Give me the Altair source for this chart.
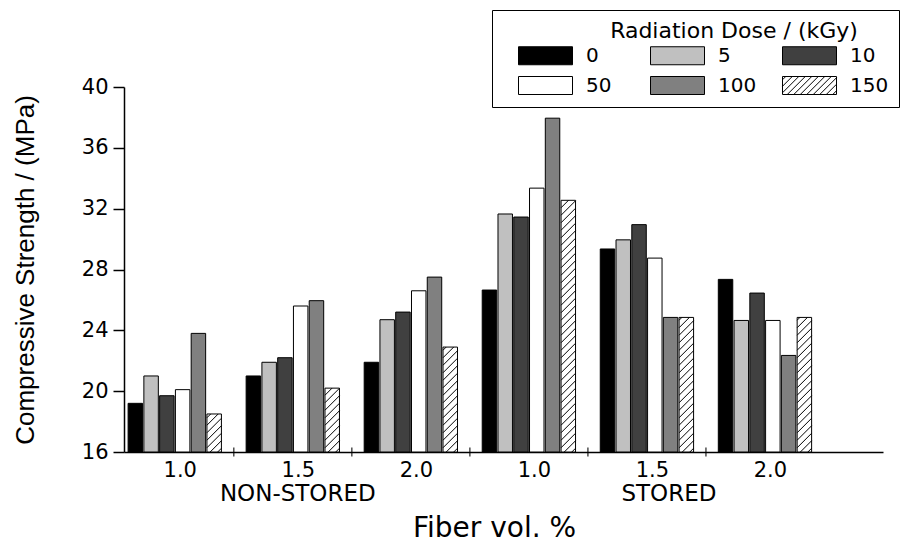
import json
import altair as alt
import pandas as pd

# ---------------- data ----------------
doses = ["0", "5", "10", "50", "100", "150"]
dose_colors = ["#000000", "#c0c0c0", "#404040", "#ffffff", "#808080", "#ffffff"]
fiber_labels = ["1.0", "1.5", "2.0", "1.0", "1.5", "2.0"]
storage_names = ["NON-STORED", "STORED"]
legend_title = "Radiation Dose / (kGy)"

ns_10 = [19.2, 21.0, 19.7, 20.1, 23.8, 18.5]
ns_15 = [21.0, 21.9, 22.2, 25.6, 25.95, 20.2]
ns_20 = [21.9, 24.7, 25.2, 26.6, 27.5, 22.9]
st_10 = [26.65, 31.65, 31.45, 33.35, 37.95, 32.55]
st_15 = [29.35, 29.95, 30.95, 28.75, 24.85, 24.85]
st_20 = [27.35, 24.65, 26.45, 24.65, 22.35, 24.85]
groups = [ns_10, ns_15, ns_20, st_10, st_15, st_20]

y_ticks = list(range(16, 41, 2))

# ---------------- layout ----------------
W, H = 759, 365
X_MIN, X_MAX = 0.57, 7.0
Y_MIN, Y_MAX = 16, 40
PITCH = 0.1336
HALF = 0.0613
SX = W / (X_MAX - X_MIN)
SY = H / (Y_MAX - Y_MIN)
HATCH = 7.5

rows = []
hatch = []
for gi, vals in enumerate(groups):
    g = gi + 1
    for i, (d, v) in enumerate(zip(doses, vals)):
        c = g + (i - 2.5) * PITCH
        x0, x1 = c - HALF, c + HALF
        rows.append({"dose": d, "value": v, "x0": x0, "x1": x1, "base": Y_MIN})
        if d == "150":
            w = (x1 - x0) * SX
            h = (v - Y_MIN) * SY
            k = -w + HATCH / 2
            while k < h:
                a = max(0.0, -k)
                b = min(w, h - k)
                if b > a:
                    hatch.append({
                        "hx0": x0 + a / SX, "hx1": x0 + b / SX,
                        "hy0": Y_MIN + (a + k) / SY, "hy1": Y_MIN + (b + k) / SY,
                    })
                k += HATCH
bar_df = pd.DataFrame(rows)
hatch_df = pd.DataFrame(hatch)
sep_df = pd.DataFrame({"bx": [g + 0.5 for g in range(1, len(groups))], "by": Y_MIN})

# legend symbols (unit box: x -1.5..1.5, y -0.5..0.5; the leading moveTo only widens the bounds)
rect_path = "M-2.4,0M-1.5,-0.5H1.5V0.5H-1.5Z"
step = 6.5 / 18
segs = []
cc = -2.0 + step / 2
while cc < 2.0:
    a = max(-1.5, cc - 0.5)
    b = min(1.5, cc + 0.5)
    if b > a:
        segs.append(f"M{a:.4f},{cc - a:.4f}L{b:.4f},{cc - b:.4f}")
    cc += step
hatch_path = rect_path + "".join(segs)

FONT = "DejaVu Sans"
TITLE = "Fiber vol. %"
YTITLE = "Compressive Strength / (MPa)"

xscale = alt.Scale(domain=[X_MIN, X_MAX], nice=False, zero=False)
yscale = alt.Scale(domain=[Y_MIN, Y_MAX], nice=False, zero=False)

xaxis = alt.Axis(
    values=list(range(1, len(groups) + 1)),
    labelExpr=f"{json.dumps(fiber_labels)}[datum.value - 1]",
    ticks=False, tickSize=0, grid=False,
    domainColor="black", domainWidth=1.5,
    labelFont=FONT, labelFontSize=21, labelColor="black",
    labelBaseline="alphabetic", labelPadding=24, labelOffset=5,
    title=TITLE, titleFont=FONT, titleFontSize=28, titleFontWeight="normal",
    titleColor="black", titleX=370, titleY=84, titleAlign="center",
    titleBaseline="alphabetic", titleAnchor="start",
)
yaxis = alt.Axis(
    values=y_ticks,
    labelExpr="datum.value % 4 === 0 ? datum.label : ''",
    tickSize={"condition": {"test": "datum.value % 4 === 0", "value": 11}, "value": 6},
    tickColor="black", tickWidth=1.5, grid=False,
    domainColor="black", domainWidth=1.5,
    labelFont=FONT, labelFontSize=21, labelColor="black", labelPadding=5,
    title=YTITLE, titleFont="Liberation Sans", titleFontSize=26,
    titleFontWeight="normal", titleColor="black", titleAngle=270,
    titleX=-91, titleY=H / 2, titleAlign="center", titleBaseline="alphabetic",
    titleAnchor="start",
)

legend = alt.Legend(
    title=" ", orient="none", legendX=368, legendY=-77, direction="horizontal",
    columns=3, gridAlign="all", columnPadding=7, rowPadding=-4,
    symbolType={"expr": f"datum.value === '150' ? '{hatch_path}' : '{rect_path}'"},
    symbolSize=1296, symbolStrokeColor="black", symbolOffset=25,
    symbolStrokeWidth=1, symbolOpacity=1,
    labelFont=FONT, labelFontSize=20, labelColor="black", labelOffset=22,
    titleFont=FONT, titleFontSize=17, titleFontWeight="normal", titleColor="black",
    titlePadding=0,
    strokeColor="black", padding=10,
)

bars = alt.Chart(bar_df).mark_bar(stroke="black", strokeWidth=1, opacity=1).encode(
    x=alt.X("x0:Q", scale=xscale, axis=xaxis, title=TITLE),
    x2="x1",
    y=alt.Y("value:Q", scale=yscale, axis=yaxis, title=YTITLE),
    y2="base",
    color=alt.Color("dose:N", scale=alt.Scale(domain=doses, range=dose_colors), legend=legend),
)

hatch_layer = alt.Chart(hatch_df).mark_rule(color="black", strokeWidth=1).encode(
    x=alt.X("hx0:Q", title=TITLE), x2="hx1",
    y=alt.Y("hy0:Q", title=YTITLE), y2="hy1",
)

sep_layer = alt.Chart(sep_df).mark_tick(color="black", thickness=1.5, size=9, orient="vertical").encode(
    x=alt.X("bx:Q", title=TITLE),
    y=alt.Y("by:Q", title=YTITLE),
)

name1 = alt.Chart(pd.DataFrame({"name": [storage_names[0]], "gx": [2]})).mark_text(
    font=FONT, fontSize=23, color="black", baseline="alphabetic", align="center", dx=5
).encode(x=alt.X("gx:Q", title=TITLE), y=alt.value(H + 49), text="name:N")
name2 = alt.Chart(pd.DataFrame({"name": [storage_names[1]], "gx": [5]})).mark_text(
    font=FONT, fontSize=23, color="black", baseline="alphabetic", align="center", dx=22
).encode(x=alt.X("gx:Q", title=TITLE), y=alt.value(H + 49), text="name:N")

leg_title = alt.Chart(pd.DataFrame({"t": [legend_title]})).mark_text(
    font=FONT, fontSize=22, color="black", baseline="alphabetic", align="center"
).encode(x=alt.value(610), y=alt.value(-49), text="t:N")

chart = alt.layer(bars, hatch_layer, sep_layer, name1, name2, leg_title).properties(
    width=W, height=H,
    autosize=alt.AutoSizeParams(type="none"),
    padding={"left": 116, "top": 79, "right": 29, "bottom": 92},
    background="white",
).configure_view(stroke=None)

chart.save("out.html", embed_options={"renderer": "svg", "actions": False})
